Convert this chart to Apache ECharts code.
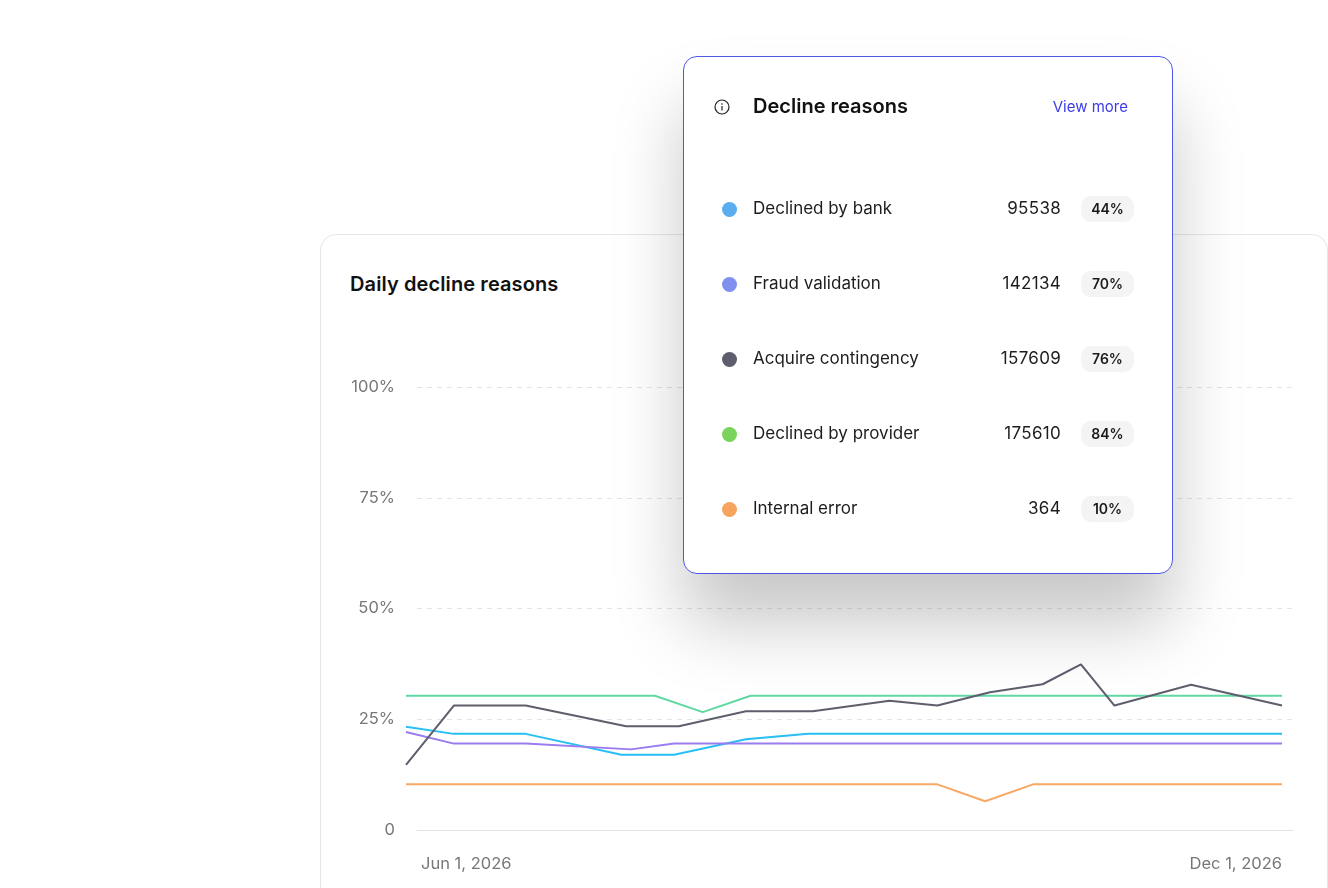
<!DOCTYPE html>
<html lang="en">
<head>
    <meta charset="UTF-8">
    <title>Daily decline reasons</title>
    <script src="https://cdn.jsdelivr.net/npm/echarts@6.0.0/dist/echarts.min.js"></script>
    <style>
        html, body { margin: 0; padding: 0; background: #fff; }
        body { width: 1328px; height: 888px; overflow: hidden; position: relative;
               font-family: Inter, "Noto Sans", sans-serif; }
        .panel { position: absolute; left: 320px; top: 234px; width: 1008px; height: 700px;
                 border: 1px solid #e6e6e6; border-radius: 16px; box-sizing: border-box; }
        .panel-title { position: absolute; left: 350px; top: 272px; font-size: 20px;
                       font-weight: 600; color: #111; letter-spacing: 0.1px; }
        #chart { position: absolute; left: 0; top: 0; width: 1328px; height: 888px; }
        .card { position: absolute; left: 683px; top: 56px; width: 490px; height: 518px;
                box-sizing: border-box; background: #fff; border: 1.5px solid #4f55e6;
                border-radius: 14px; box-shadow: 0 50px 70px rgba(0, 0, 0, 0.22); }
        .card-head { position: absolute; left: 0; top: 37px; width: 100%; height: 28px; }
        .card-head svg { position: absolute; left: 30px; top: 5px; }
        .card-title { position: absolute; left: 69px; top: 0; font-size: 20px; font-weight: 600; color: #111; }
        .card-more { position: absolute; right: 44px; top: 3px; font-size: 15px; color: #3c3ceb; }
        .row { position: absolute; left: 0; width: 100%; height: 28px; }
        .dot { position: absolute; left: 38px; top: 6px; width: 15px; height: 15px; border-radius: 50%; }
        .label { position: absolute; left: 69px; top: 2px; font-size: 17px; color: #1d1d1d; }
        .value { position: absolute; right: 111px; top: 2px; font-size: 17px; color: #1d1d1d; letter-spacing: 0.3px; }
        .badge { position: absolute; left: 397px; top: 0; width: 53px; height: 26px; border-radius: 10px;
                 background: #f4f4f4; font-size: 14px; font-weight: 600; color: #1a1a1a;
                 line-height: 26px; text-align: center; }
    </style>
</head>
<body>
    <div class="panel"></div>
    <div class="panel-title">Daily decline reasons</div>
    <div id="chart"></div>

    <!-- summary card -->
    <div class="card" id="card">
        <div class="card-head">
            <svg width="16" height="16" viewBox="0 0 16 16">
                <circle cx="8" cy="8" r="7" fill="none" stroke="#222" stroke-width="1.2"/>
                <rect x="7.4" y="7" width="1.2" height="4.5" fill="#222"/>
                <circle cx="8" cy="5" r="0.8" fill="#222"/>
            </svg>
            <div class="card-title">Decline reasons</div>
            <div class="card-more">View more</div>
        </div>
    </div>

    <script>
        // x values are days after Jun 1, 2026; y values are percent
        const xTickLabels = ['Jun 1, 2026', 'Dec 1, 2026'];
        const dayRange = [0, 183];

        const reasonNames = ['Declined by bank', 'Fraud validation', 'Acquire contingency', 'Declined by provider', 'Internal error'];
        const reasonTotals = [95538, 142134, 157609, 175610, 364];
        const reasonShares = [44, 70, 76, 84, 10];

        const bankPoints = [[0, 23.3], [10, 21.7], [25, 21.7], [45, 17.0], [56, 17.0], [71, 20.5], [84, 21.7], [183, 21.7]];
        const fraudPoints = [[0, 22.1], [10, 19.5], [25, 19.5], [47, 18.2], [56, 19.5], [183, 19.5]];
        const acquirePoints = [[0, 14.7], [10, 28.1], [25, 28.1], [46, 23.4], [57, 23.4], [71, 26.8], [85, 26.8],
            [101, 29.2], [111, 28.1], [122, 31.1], [133, 32.9], [141, 37.4], [148, 28.1], [164, 32.8], [183, 28.1]];
        const providerPoints = [[0, 30.3], [52, 30.3], [62, 26.6], [72, 30.3], [183, 30.3]];
        const internalPoints = [[0, 10.3], [111, 10.3], [121, 6.5], [131, 10.3], [183, 10.3]];

        const lineColors = ['#27bff4', '#9a7cf0', '#5e5e6c', '#5fd8a3', '#f7a863'];
        const dotColors = ['#5aaef0', '#8190ee', '#5d5d6d', '#79d35d', '#f7a45e'];

        // card rows
        const card = document.getElementById('card');
        reasonNames.forEach((name, i) => {
            const row = document.createElement('div');
            row.className = 'row';
            row.style.top = (139 + i * 75) + 'px';
            row.innerHTML =
                `<div class="dot" style="background:${dotColors[i]}"></div>` +
                `<div class="label">${name}</div>` +
                `<div class="value">${reasonTotals[i]}</div>` +
                `<div class="badge">${reasonShares[i]}%</div>`;
            card.appendChild(row);
        });

        const chart = echarts.init(document.getElementById('chart'));
        const seriesPoints = [bankPoints, fraudPoints, internalPoints, providerPoints, acquirePoints];
        const seriesIdx = [0, 1, 4, 3, 2];

        const option = {
            animation: false,
            grid: [
                { left: 417, right: 35, top: 387, bottom: 58 },
                { left: 406, right: 46, top: 387, bottom: 58 }
            ],
            xAxis: [
                {
                    type: 'value', gridIndex: 0, min: dayRange[0], max: dayRange[1],
                    axisLine: { show: true, lineStyle: { color: '#e3e3e3', width: 1 } },
                    axisTick: { show: false }, axisLabel: { show: false }, splitLine: { show: false }
                },
                {
                    type: 'value', gridIndex: 1, min: dayRange[0], max: dayRange[1], interval: dayRange[1],
                    axisLine: { show: false }, axisTick: { show: false }, splitLine: { show: false },
                    axisLabel: {
                        margin: 26, color: '#777', fontSize: 16.5,
                        fontFamily: 'Inter, "Noto Sans", sans-serif',
                        alignMinLabel: 'left', alignMaxLabel: 'right',
                        formatter: v => v === dayRange[0] ? '{a|' + xTickLabels[0] + '}' : '{b|' + xTickLabels[1] + '}',
                        rich: {
                            a: { padding: [0, 0, 0, 15], fontSize: 16.5, color: '#777' },
                            b: { padding: [0, 0, 0, 0], fontSize: 16.5, color: '#777' }
                        }
                    }
                }
            ],
            yAxis: [
                {
                    type: 'value', gridIndex: 0, min: 0, max: 100, interval: 25,
                    axisLine: { show: false }, axisTick: { show: false },
                    axisLabel: {
                        margin: 22, color: '#777', fontSize: 16.5,
                        fontFamily: 'Inter, "Noto Sans", sans-serif',
                        formatter: v => v === 0 ? '0' : v + '%'
                    },
                    splitLine: { lineStyle: { color: '#e4e4e4', type: [5, 5], width: 1 } }
                },
                { type: 'value', gridIndex: 1, min: 0, max: 100, show: false }
            ],
            series: seriesIdx.map((k, j) => ({
                name: reasonNames[k],
                type: 'line',
                xAxisIndex: 1,
                yAxisIndex: 1,
                data: seriesPoints[j],
                symbol: 'none',
                lineStyle: { color: lineColors[k], width: 2 },
                itemStyle: { color: lineColors[k] }
            }))
        };

        chart.setOption(option);
    </script>
</body>
</html>
